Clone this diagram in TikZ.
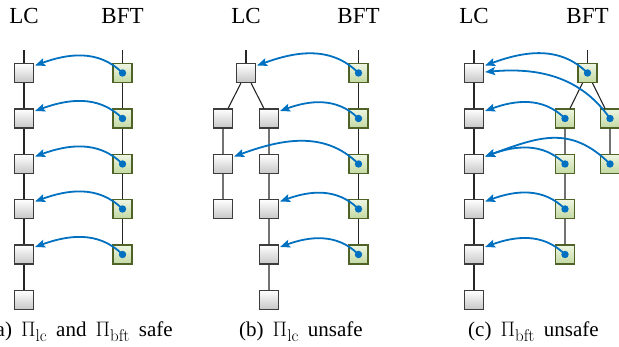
\RequirePackage{fix-cm}
\documentclass[tikz,border=0pt]{standalone}
\usepackage[no-math]{fontspec}
\setmainfont{Liberation Serif}
\DeclareMathSizes{21}{21}{17}{13}
\usetikzlibrary{arrows.meta}
\definecolor{arrblue}{HTML}{0070C0}
\definecolor{bftdraw}{HTML}{4F6228}
\definecolor{bfttop}{HTML}{EEF5E2}
\definecolor{bftbot}{HTML}{C3D9A2}
\definecolor{lcdraw}{HTML}{3C3C3C}
\newcommand{\capgap}{\hspace{9pt}}
\tikzset{
  lcbox/.style={draw=lcdraw, line width=1.2pt, top color=white, bottom color=black!22, minimum size=19pt, inner sep=0pt},
  bftbox/.style={draw=bftdraw, line width=1.2pt, top color=bfttop, bottom color=bftbot, minimum size=19pt, inner sep=0pt},
  chain/.style={line width=1.1pt, black!85},
  arr/.style={arrblue, line width=1.8pt, -{Stealth[length=10pt,width=8pt,inset=2pt]}},
  startdot/.style={fill=arrblue},
  collabel/.style={font=\fontsize{23}{27}\selectfont, anchor=base, inner sep=0pt},
  caplabel/.style={font=\fontsize{21}{25}\selectfont, anchor=base, inner sep=0pt}
}
\begin{document}
\begin{tikzpicture}[x=1pt,y=1pt]
\useasboundingbox (0,0) rectangle (619,347);
% ---------------- panel (a)
\node[collabel] (a-lab1) at (24,323) {LC};
\node[collabel] (a-lab2) at (122.5,323) {BFT};
\coordinate (a-ls) at (24,297);
\coordinate (a-bs) at (122.5,297);
\node[lcbox] (a-l1) at (24,274) {};
\node[lcbox] (a-l2) at (24,228.5) {};
\node[lcbox] (a-l3) at (24,183) {};
\node[lcbox] (a-l4) at (24,138) {};
\node[lcbox] (a-l5) at (24,92.5) {};
\node[lcbox] (a-l6) at (24,47) {};
\node[bftbox] (a-b1) at (122.5,274) {};
\node[bftbox] (a-b2) at (122.5,228.5) {};
\node[bftbox] (a-b3) at (122.5,183) {};
\node[bftbox] (a-b4) at (122.5,138) {};
\node[bftbox] (a-b5) at (122.5,92.5) {};
\draw[chain] (a-ls) -- (a-l1) -- (a-l2) -- (a-l3) -- (a-l4) -- (a-l5) -- (a-l6);
\draw[chain] (a-bs) -- (a-b1) -- (a-b2) -- (a-b3) -- (a-b4) -- (a-b5);
\foreach \i in {1,...,5}{
  \fill[startdot] (a-b\i) circle (3.7pt);
  \draw[arr] (a-b\i.center) to[out=135,in=20] ([shift={(1pt,7.5pt)}]a-l\i.east);
}
\node[caplabel, anchor=base east] (a-cap) at (173,10.5) {(a)\capgap$\Pi_{\mathrm{lc}}$\capgap and\capgap$\Pi_{\mathrm{bft}}$\capgap safe};
% ---------------- panel (b)
\node[collabel] (b-lab1) at (246,323) {LC};
\node[collabel] (b-lab2) at (358.5,323) {BFT};
\coordinate (b-ls) at (246,297);
\coordinate (b-bs) at (358.5,297);
\node[lcbox] (b-t) at (246,274) {};
\node[lcbox] (b-l2) at (223,228.5) {};
\node[lcbox] (b-l3) at (223,183) {};
\node[lcbox] (b-l4) at (223,138) {};
\node[lcbox] (b-r2) at (269,228.5) {};
\node[lcbox] (b-r3) at (269,183) {};
\node[lcbox] (b-r4) at (269,138) {};
\node[lcbox] (b-r5) at (269,92.5) {};
\node[lcbox] (b-r6) at (269,47) {};
\node[bftbox] (b-b1) at (358.5,274) {};
\node[bftbox] (b-b2) at (358.5,228.5) {};
\node[bftbox] (b-b3) at (358.5,183) {};
\node[bftbox] (b-b4) at (358.5,138) {};
\node[bftbox] (b-b5) at (358.5,92.5) {};
\draw[chain] (b-ls) -- (b-t);
\draw[chain] (b-t) -- (b-l2) -- (b-l3) -- (b-l4);
\draw[chain] (b-t) -- (b-r2) -- (b-r3) -- (b-r4) -- (b-r5) -- (b-r6);
\draw[chain] (b-bs) -- (b-b1) -- (b-b2) -- (b-b3) -- (b-b4) -- (b-b5);
\foreach \s/\t in {b1/t, b2/r2, b3/l3, b4/r4, b5/r5}{
  \fill[startdot] (b-\s) circle (3.7pt);
  \draw[arr] (b-\s.center) to[out=135,in=20] ([shift={(1pt,7.5pt)}]b-\t.east);
}
\node[caplabel] (b-cap) at (301,10.5) {(b)\capgap$\Pi_{\mathrm{lc}}$\capgap unsafe};
% ---------------- panel (c)
\node[collabel] (c-lab1) at (474,323) {LC};
\node[collabel] (c-lab2) at (587.5,323) {BFT};
\coordinate (c-ls) at (474,297);
\coordinate (c-bs) at (587.5,297);
\node[lcbox] (c-l1) at (474,274) {};
\node[lcbox] (c-l2) at (474,228.5) {};
\node[lcbox] (c-l3) at (474,183) {};
\node[lcbox] (c-l4) at (474,138) {};
\node[lcbox] (c-l5) at (474,92.5) {};
\node[lcbox] (c-l6) at (474,47) {};
\node[bftbox] (c-t) at (587.5,274) {};
\node[bftbox] (c-p2) at (565,228.5) {};
\node[bftbox] (c-p3) at (565,183) {};
\node[bftbox] (c-p4) at (565,138) {};
\node[bftbox] (c-p5) at (565,92.5) {};
\node[bftbox] (c-q2) at (610,228.5) {};
\node[bftbox] (c-q3) at (610,183) {};
\draw[chain] (c-ls) -- (c-l1) -- (c-l2) -- (c-l3) -- (c-l4) -- (c-l5) -- (c-l6);
\draw[chain] (c-bs) -- (c-t);
\draw[chain] (c-t) -- (c-p2) -- (c-p3) -- (c-p4) -- (c-p5);
\draw[chain] (c-t) -- (c-q2) -- (c-q3);
\foreach \s/\t in {t/l1, p2/l2, p3/l3, p4/l4, p5/l5}{
  \fill[startdot] (c-\s) circle (3.7pt);
  \draw[arr] (c-\s.center) to[out=135,in=20] ([shift={(1pt,7.5pt)}]c-\t.east);
}
\fill[startdot] (c-q2) circle (3.7pt);
\draw[arr] (c-q2.center) to[out=125,in=5] ([shift={(1pt,1pt)}]c-l1.east);
\fill[startdot] (c-q3) circle (3.7pt);
\draw[arr] (c-q3.center) to[out=135,in=20,looseness=1.15] ([shift={(1pt,7.5pt)}]c-l3.east);
\node[caplabel] (c-cap) at (533.5,10.5) {(c)\capgap$\Pi_{\mathrm{bft}}$\capgap unsafe};
\end{tikzpicture}
\end{document}
